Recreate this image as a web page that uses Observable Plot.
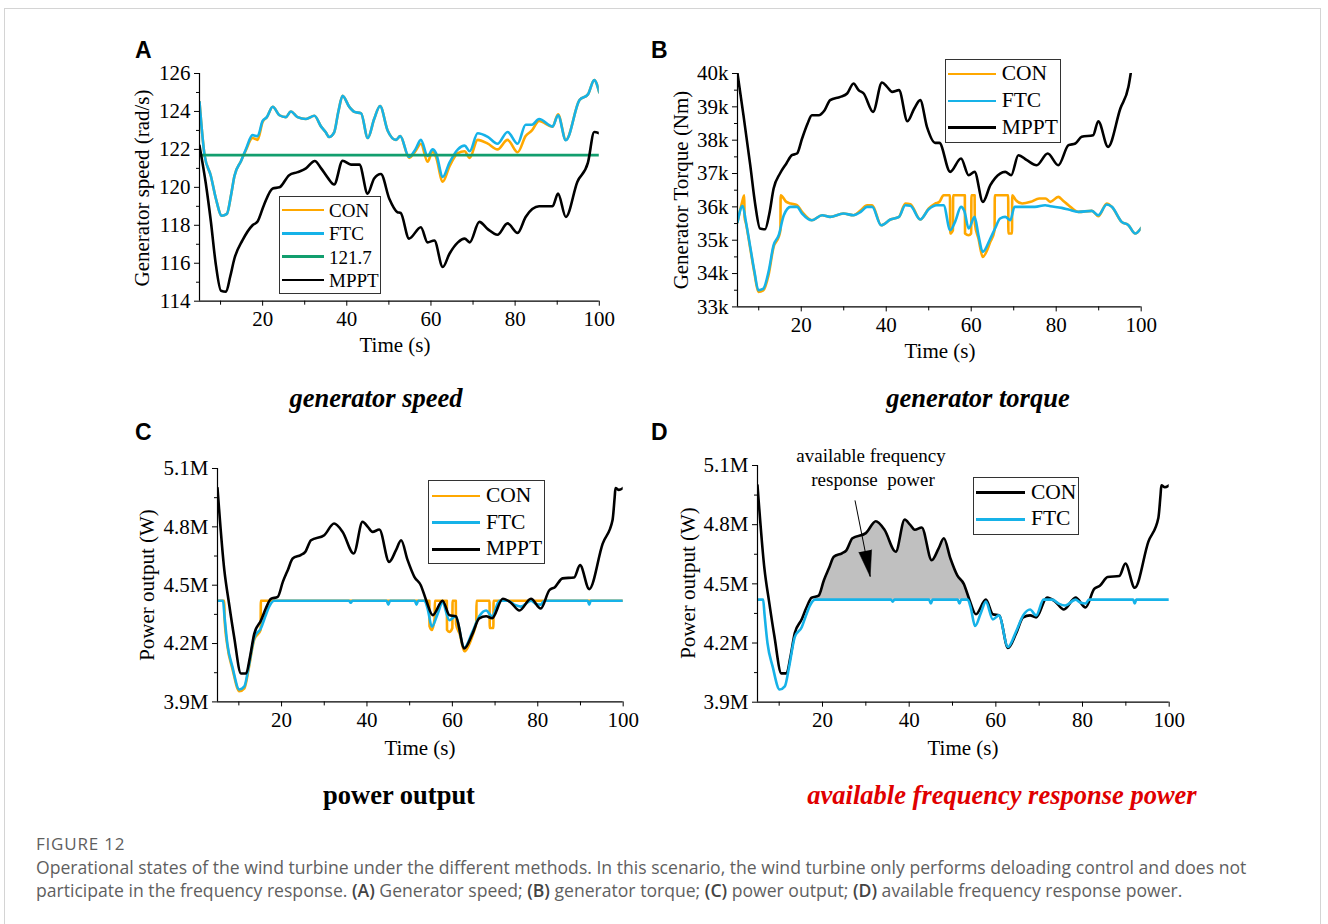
<!DOCTYPE html>
<html><head><meta charset="utf-8">
<script src="https://cdn.jsdelivr.net/npm/d3@7"></script>
<script src="https://cdn.jsdelivr.net/npm/@observablehq/plot@0.6"></script>
<style>
body{margin:0;background:#fff;}
#fig{position:relative;width:1328px;height:924px;overflow:hidden;font-family:"Liberation Serif","Times New Roman",serif;color:#000;}
.abs{position:absolute;white-space:nowrap;line-height:1;}
.cc{transform:translate(-50%,-50%);}
.lc{transform:translate(0,-50%);}
.rot{transform:translate(-50%,-50%) rotate(-90deg);}
.border{position:absolute;left:4px;top:8px;width:1317px;height:930px;border:1px solid #d4d4d4;box-sizing:border-box;}
.letter{font-family:"Liberation Sans",Arial,sans-serif;font-weight:bold;font-size:23px;}
.ptitle{font-weight:bold;font-style:italic;font-size:26.5px;}
.axt{font-size:21px;}
.cap{font-family:"Open Sans","Noto Sans",sans-serif;color:#5f5f5f;font-size:17.6px;}
.cap b{color:#444;font-weight:600;}
</style></head>
<body><div id="fig"><div class="border"></div></div>
<script>
// ---------------- DATA ----------------
const xMajor = [20, 40, 60, 80, 100];
const xMinor = [10, 30, 50, 70, 90];

// (A) generator speed, rad/s
const tSpeedFTC = [5, 6.2, 7.7, 8.9, 10.3, 11.5, 12.5, 13.3, 14.9, 16, 17.6, 18.8, 20, 21, 22.4, 24, 25.5, 26.7, 28.3, 30.3, 32.3, 33.9, 35, 35.8, 37, 38, 39, 40.6, 41.8, 43.4, 45, 46.5, 47.9, 49.7, 51.7, 52.7, 54.8, 56.3, 57.6, 59.2, 60.4, 61.2, 62.8, 64.4, 66.4, 68, 69.2, 71.1, 73.5, 75.8, 78.2, 80.6, 82.5, 84, 85.7, 88.9, 90.2, 92.05, 95.3, 97.3, 98.8, 100];
const speedFTC = [124.5, 121.7, 120.6, 119.4, 118.5, 118.6, 119.6, 120.6, 121.4, 122.0, 122.75, 122.7, 123.5, 123.7, 124.25, 123.8, 123.7, 124.0, 123.7, 123.6, 123.77, 123.2, 122.9, 122.65, 122.9, 124.0, 124.82, 124.24, 123.98, 123.9, 122.6, 123.6, 124.29, 123.0, 122.5, 122.7, 121.6, 122.0, 122.5, 121.65, 122.0, 121.8, 120.55, 121.3, 122.0, 122.2, 121.9, 122.85, 122.66, 122.3, 122.92, 122.3, 123.3, 123.3, 123.6, 123.2, 123.8, 122.48, 124.6, 124.9, 125.65, 125.0];
const speedCON = [124.5, 121.7, 120.6, 119.4, 118.5, 118.6, 119.6, 120.6, 121.4, 121.95, 122.6, 122.5, 123.45, 123.7, 124.25, 123.8, 123.7, 124.0, 123.7, 123.6, 123.77, 123.2, 122.9, 122.65, 122.9, 124.0, 124.82, 124.24, 123.98, 123.9, 122.6, 123.6, 124.29, 123.0, 122.5, 122.7, 121.55, 121.9, 122.3, 121.35, 121.9, 121.6, 120.3, 121.1, 121.8, 121.9, 121.55, 122.5, 122.3, 122.0, 122.5, 121.85, 122.7, 123.0, 123.5, 123.2, 123.85, 122.5, 124.6, 124.9, 125.65, 125.0];
const tSpeedMPPT = [5, 6.5, 7.7, 8.9, 10.1, 11.3, 12.3, 13.3, 15.2, 17.6, 18.8, 20.3, 22.4, 24, 26.3, 28.3, 30.3, 32.4, 33.9, 35.5, 37, 39, 41, 43, 44.95, 46.5, 48.1, 50.1, 52.0, 52.8, 54.8, 57.6, 59.2, 60.8, 62.8, 64.4, 66.4, 68, 69.2, 71.5, 73.5, 75.8, 78.2, 80.6, 82.5, 85.7, 88.9, 90.2, 92.05, 94.8, 97.3, 98.8, 100];
const speedMPPT = [122.2, 120.2, 118.2, 115.9, 114.55, 114.5, 115.3, 116.25, 117.2, 118.0, 118.2, 119.06, 119.94, 120.0, 120.64, 120.8, 121.0, 121.39, 121.0, 120.5, 120.15, 121.4, 121.2, 121.2, 119.67, 120.47, 120.7, 119.4, 118.7, 118.65, 117.3, 117.9, 117.1, 117.2, 115.8, 116.5, 117.1, 117.3, 117.1, 118.18, 117.8, 117.5, 118.1, 117.6, 118.44, 119.0, 119.0, 119.67, 118.44, 120.3, 121.3, 122.92, 122.85];
const speedRef = 121.7;
const speedTicks = [114, 116, 118, 120, 122, 124, 126];
const speedMinor = [115, 117, 119, 121, 123, 125];

// (B) generator torque, kNm
const tTorqueMPPT = [5, 6.4, 8.0, 9.2, 10.3, 11.5, 12.5, 13.5, 15.0, 16.5, 17.8, 19.0, 20.2, 21.5, 22.5, 24.1, 25.5, 26.8, 29.2, 30.8, 32.3, 33.5, 34.7, 36.9, 39.0, 40.2, 41.4, 43.0, 45.0, 46.6, 48.0, 49.6, 51.5, 52.5, 55.05, 57.6, 59.4, 60.8, 62.75, 64.5, 66.8, 68.0, 69.4, 71.1, 73.1, 75.4, 78.0, 80.5, 82.9, 84.5, 86.0, 88.7, 89.9, 92.2, 95.1, 97.0, 98.0];
const torqueMPPT = [40.0, 38.75, 37.25, 36.05, 35.35, 35.33, 35.8, 36.55, 37.0, 37.3, 37.55, 37.6, 38.05, 38.5, 38.75, 38.75, 38.9, 39.2, 39.3, 39.4, 39.7, 39.5, 39.4, 38.85, 39.73, 39.6, 39.45, 39.5, 38.57, 38.95, 39.2, 38.39, 37.92, 37.92, 37.05, 37.45, 36.95, 37.05, 36.15, 36.65, 37.0, 37.05, 36.95, 37.55, 37.4, 37.25, 37.6, 37.25, 37.85, 37.9, 38.1, 38.15, 38.57, 37.8, 38.95, 39.6, 40.4];
const tTorqueFTC = [5, 6.2, 7.0, 8.0, 9.0, 9.9, 11.1, 12.3, 13.5, 14.7, 15.9, 17.5, 19.0, 20.2, 22.5, 24.9, 26.8, 29.9, 32.3, 34.0, 35.5, 36.7, 38.8, 41, 43, 44.5, 45.7, 48.0, 50.0, 51.9, 53.5, 55.05, 56.2, 57.6, 58.4, 59.4, 60.8, 61.7, 62.7, 64.5, 65.6, 66.8, 68.0, 69.2, 70.2, 72.7, 75.0, 77.4, 78.6, 81.3, 82.9, 85.2, 88.4, 89.9, 91.9, 93.1, 95.4, 97.0, 98.6, 100];
const torqueFTC = [35.54, 36.03, 35.54, 34.8, 34.05, 33.5, 33.55, 34.05, 34.85, 35.15, 35.75, 36.0, 36.0, 35.8, 35.6, 35.75, 35.7, 35.8, 35.75, 35.85, 36.0, 36.0, 35.45, 35.62, 35.7, 36.05, 36.03, 35.62, 35.93, 36.05, 36.05, 35.3, 35.55, 36.0, 35.87, 35.35, 35.7, 35.15, 34.65, 35.05, 35.35, 35.65, 35.7, 35.6, 36.0, 36.0, 36.0, 36.05, 36.02, 35.97, 35.92, 35.85, 35.88, 35.75, 36.07, 36.0, 35.55, 35.45, 35.2, 35.37];
const tTorqueCON = [5, 6.0, 6.6, 6.65, 7.0, 8.0, 9.0, 9.9, 11.1, 12.3, 13.5, 14.7, 15.1, 15.15, 16.5, 17.5, 19.0, 20.2, 22.5, 24.9, 26.8, 29.9, 32.3, 34.0, 35.5, 36.7, 38.8, 41, 43, 44.5, 45.7, 48.0, 50.0, 51.5, 52.5, 53.5, 55.0, 55.05, 55.7, 55.75, 58.5, 58.55, 59.4, 60.0, 60.05, 60.8, 60.85, 61.7, 62.7, 64.5, 65.5, 65.55, 68.7, 68.75, 69.6, 69.65, 70.5, 72.0, 74, 76, 77.5, 78.6, 80.5, 81.5, 82.9, 85.2, 88.4, 89.9, 91.9, 93.1, 95.4, 97.0, 98.6, 100];
const torqueCON = [35.54, 36.1, 36.35, 35.7, 35.5, 34.75, 34.0, 33.45, 33.5, 33.95, 34.8, 35.1, 35.3, 36.35, 36.15, 36.1, 36.05, 35.85, 35.6, 35.75, 35.7, 35.8, 35.75, 35.9, 36.05, 36.05, 35.45, 35.62, 35.7, 36.1, 36.08, 35.62, 35.95, 36.1, 36.15, 36.35, 36.35, 35.2, 35.3, 36.35, 36.35, 35.2, 35.15, 35.2, 36.35, 36.35, 35.5, 35.05, 34.5, 34.95, 35.3, 36.35, 36.35, 35.2, 35.2, 36.35, 36.2, 36.1, 36.15, 36.25, 36.25, 36.15, 36.3, 36.2, 36.05, 35.85, 35.88, 35.72, 36.1, 36.0, 35.55, 35.45, 35.2, 35.37];
const torqueTicks = [33, 34, 35, 36, 37, 38, 39, 40];
const torqueMinor = [33.5, 34.5, 35.5, 36.5, 37.5, 38.5, 39.5];

// (C)/(D) power output, MW
const tPowerMPPT = [5, 6.6, 7.7, 8.9, 10.5, 11.7, 12.6, 13.6, 15.2, 16.3, 17.5, 19.1, 20.3, 21.5, 22.6, 24.5, 25.5, 26.9, 30.0, 32.3, 34.3, 36.9, 38.97, 40.2, 41.3, 42.9, 45.2, 46.8, 48.0, 49.5, 51.1, 52.6, 53.9, 55.4, 57.7, 59.3, 60.8, 62.8, 64.7, 66.3, 67.9, 69.3, 71.8, 73.7, 75.7, 78.4, 80.7, 82.7, 84.0, 85.8, 88.5, 89.9, 92.05, 95.2, 97.5, 98.0, 98.2, 99, 100];
const powerMPPT = [5.0, 4.577, 4.406, 4.234, 4.046, 4.046, 4.13, 4.25, 4.32, 4.38, 4.43, 4.44, 4.517, 4.58, 4.637, 4.655, 4.67, 4.731, 4.757, 4.817, 4.774, 4.663, 4.826, 4.80, 4.774, 4.786, 4.62, 4.68, 4.731, 4.63, 4.543, 4.5, 4.42, 4.346, 4.42, 4.346, 4.34, 4.175, 4.25, 4.33, 4.34, 4.33, 4.43, 4.41, 4.37, 4.43, 4.38, 4.474, 4.49, 4.535, 4.54, 4.603, 4.48, 4.714, 4.834, 4.95, 5.0, 4.99, 5.0];
const tPowerFTC = [5, 6.3, 6.6, 7.3, 8.5, 10.1, 11.3, 12.3, 13.6, 15.2, 16.2, 17.1, 18.3, 35.8, 36.2, 36.6, 44.6, 45.0, 45.4, 51.2, 51.6, 52.0, 53.5, 54.2, 55.2, 56.5, 57.7, 59.3, 60.7, 62.8, 64.7, 66.3, 67.9, 69.3, 71.0, 73.0, 74.5, 76.0, 78.4, 79.5, 80.7, 81.5, 91.7, 92.05, 92.4, 100];
const powerFTC = [4.42, 4.42, 4.35, 4.20, 4.08, 3.964, 3.98, 4.08, 4.23, 4.28, 4.34, 4.39, 4.42, 4.42, 4.41, 4.42, 4.42, 4.40, 4.42, 4.42, 4.40, 4.42, 4.42, 4.38, 4.286, 4.35, 4.41, 4.32, 4.34, 4.18, 4.26, 4.34, 4.37, 4.34, 4.42, 4.42, 4.40, 4.39, 4.42, 4.405, 4.40, 4.42, 4.42, 4.40, 4.42, 4.42];
const tPowerCON = [5, 6.6, 6.65, 7.3, 8.5, 10.1, 11.3, 12.3, 13.6, 15.1, 15.15, 54.6, 54.65, 55.2, 55.85, 55.9, 58.7, 58.75, 59.3, 60.0, 60.05, 60.8, 60.85, 61.7, 62.8, 64.7, 65.6, 65.65, 68.7, 68.75, 69.6, 69.65, 100];
const powerCON = [4.42, 4.42, 4.33, 4.19, 4.07, 3.955, 3.97, 4.07, 4.22, 4.27, 4.42, 4.42, 4.29, 4.27, 4.33, 4.42, 4.42, 4.27, 4.26, 4.28, 4.42, 4.42, 4.30, 4.25, 4.16, 4.24, 4.31, 4.42, 4.42, 4.28, 4.28, 4.42, 4.42];
const deloadPower = 4.42;           // deloaded power level (MW)
const reserveWindow = [17.5, 53.9]; // shaded span in (D), s
const powerTicks = [3.9, 4.2, 4.5, 4.8, 5.1];
const powerMinor = [4.05, 4.35, 4.65, 4.95];
const arrowAnno = [{t1: 27.5, p1: 4.923, t2: 31.0, p2: 4.537}];

// ---------------- STYLE ----------------
const C_CON = "#FFA800", C_FTC = "#16B2E8", C_REF = "#129E6E", C_MPPT = "#000000";
const SERIF = '"Liberation Serif","Times New Roman",serif';
const fig = document.getElementById("fig");
const pts = (ts, vs) => ts.map((t, i) => ({t, v: vs[i]}));

function line(data, color) {
  return Plot.line(data, {x: "t", y: "v", stroke: color, strokeWidth: 2.6, clip: true, curve: "monotone-x", strokeLinejoin: "round"});
}

function panel(o) {
  const ml = 80, mr = 24, mt = 12, mb = 50;
  const fw = o.x1 - o.x0, fh = o.yBot - o.yTop;
  const p = Plot.plot({
    width: fw + ml + mr, height: fh + mt + mb,
    marginLeft: ml, marginRight: mr, marginTop: mt, marginBottom: mb,
    x: {domain: [5, 100]},
    y: {domain: o.yDomain},
    style: {fontFamily: SERIF, fontSize: "21px", color: "#000", background: "transparent", overflow: "visible"},
    marks: [
      ...o.marks,
      Plot.axisX({ticks: xMajor, tickSize: 5, tickPadding: 5, label: null, tickFormat: d => String(d)}),
      Plot.axisX({ticks: xMinor, tickSize: 4, label: null, tickFormat: () => ""}),
      Plot.axisY({ticks: o.yMajor, tickSize: 5, tickPadding: 4, label: null, tickFormat: o.fmt}),
      Plot.axisY({ticks: o.yMinor, tickSize: 3, label: null, tickFormat: () => ""}),
      Plot.ruleX([5], {stroke: "#000", strokeWidth: 1.2}),
      Plot.ruleY([o.yDomain[0]], {stroke: "#000", strokeWidth: 1.2})
    ]
  });
  p.style.position = "absolute";
  p.style.left = (o.x0 - ml) + "px";
  p.style.top = (o.yTop - mt) + "px";
  fig.appendChild(p);
}

function text(str, x, y, cls, extra) {
  const d = document.createElement("div");
  d.className = "abs " + cls;
  d.style.left = x + "px"; d.style.top = y + "px";
  d.innerHTML = str;
  if (extra) Object.assign(d.style, extra);
  fig.appendChild(d);
  return d;
}

function legend(o) {
  const b = document.createElement("div");
  Object.assign(b.style, {position: "absolute", left: o.x + "px", top: o.y + "px", width: o.w + "px", height: o.h + "px",
    border: "1.3px solid #333", boxSizing: "border-box", background: "#fff"});
  fig.appendChild(b);
  o.items.forEach((it, i) => {
    const y = o.rows[i];
    const l = document.createElement("div");
    Object.assign(l.style, {position: "absolute", left: o.l0 + "px", top: (y - 1.3) + "px", width: (o.l1 - o.l0) + "px", height: "2.6px", background: it.color});
    fig.appendChild(l);
    text(it.label, o.tx, y, "lc", {fontSize: o.font + "px"});
  });
}

// ---------------- PANELS ----------------
panel({
  x0: 198.5, x1: 598.3, yTop: 73.3, yBot: 301, yDomain: [114, 126],
  yMajor: speedTicks, yMinor: speedMinor, fmt: d => String(d),
  marks: [
    line(pts(tSpeedFTC, speedCON), C_CON),
    line(pts(tSpeedFTC, speedFTC), C_FTC),
    Plot.ruleY([speedRef], {stroke: C_REF, strokeWidth: 2.6}),
    line(pts(tSpeedMPPT, speedMPPT), C_MPPT)
  ]
});

panel({
  x0: 737.3, x1: 1141, yTop: 73.3, yBot: 306.7, yDomain: [33, 40],
  yMajor: torqueTicks, yMinor: torqueMinor, fmt: d => d + "k",
  marks: [
    line(pts(tTorqueCON, torqueCON), C_CON),
    line(pts(tTorqueFTC, torqueFTC), C_FTC),
    line(pts(tTorqueMPPT, torqueMPPT), C_MPPT)
  ]
});

panel({
  x0: 216.6, x1: 622.3, yTop: 468.3, yBot: 701.7, yDomain: [3.9, 5.1],
  yMajor: powerTicks, yMinor: powerMinor, fmt: d => d.toFixed(1) + "M",
  marks: [
    line(pts(tPowerCON, powerCON), C_CON),
    line(pts(tPowerFTC, powerFTC), C_FTC),
    line(pts(tPowerMPPT, powerMPPT), C_MPPT)
  ]
});

const mpptPts = pts(tPowerMPPT, powerMPPT);
panel({
  x0: 757.3, x1: 1169, yTop: 465, yBot: 701.7, yDomain: [3.9, 5.1],
  yMajor: powerTicks, yMinor: powerMinor, fmt: d => d.toFixed(1) + "M",
  marks: [
    Plot.areaY(mpptPts.filter(d => d.t >= reserveWindow[0] && d.t <= reserveWindow[1]),
      {x: "t", y1: () => deloadPower, y2: d => Math.max(d.v, deloadPower), fill: "#c0c0c0", curve: "monotone-x"}),
    line(mpptPts, C_MPPT),
    line(pts(tPowerFTC, powerFTC), C_FTC),
    Plot.link(arrowAnno, {x1: "t1", y1: "p1", x2: "t2", y2: "p2", stroke: "#000", strokeWidth: 1}),
    Plot.vector(arrowAnno, {x: "t2", y: "p2", rotate: 169, length: 26, r: 6.5, shape: "spike", anchor: "end", fill: "#000", stroke: "#000", strokeWidth: 0.5})
  ]
});

// ---------------- TEXT ----------------
text("A", 135, 50, "letter lc");
text("B", 651, 50, "letter lc");
text("C", 135, 432, "letter lc");
text("D", 651, 432, "letter lc");

text("Generator speed (rad/s)", 142, 188, "axt rot");
text("Time (s)", 395, 345, "axt cc");
text("Generator Torque (Nm)", 681, 190, "axt rot");
text("Time (s)", 940, 351, "axt cc");
text("Power output (W)", 147, 585, "axt rot");
text("Time (s)", 420, 748, "axt cc");
text("Power output (W)", 688, 583, "axt rot");
text("Time (s)", 963, 748, "axt cc");

text("generator speed", 376, 398, "ptitle cc");
text("generator torque", 978, 398, "ptitle cc");
text("power output", 399, 795, "ptitle cc", {fontStyle: "normal"});
text("available frequency response power", 1002, 795, "ptitle cc", {color: "#e00000"});

text("available frequency", 871, 455, "cc", {fontSize: "19px"});
text("response&nbsp;&nbsp;power", 873, 479, "cc", {fontSize: "19px"});

legend({x: 279, y: 195.7, w: 102, h: 98.3, l0: 281.7, l1: 324.3, tx: 329, font: 19,
  rows: [210, 233.3, 256.7, 280],
  items: [{label: "CON", color: C_CON}, {label: "FTC", color: C_FTC}, {label: "121.7", color: C_REF}, {label: "MPPT", color: C_MPPT}]});
legend({x: 945, y: 59, w: 115.7, h: 83.7, l0: 948.3, l1: 995.7, tx: 1001.7, font: 21.5,
  rows: [74, 101, 127.7],
  items: [{label: "CON", color: C_CON}, {label: "FTC", color: C_FTC}, {label: "MPPT", color: C_MPPT}]});
legend({x: 428.3, y: 480, w: 116.7, h: 84.3, l0: 431.7, l1: 480, tx: 486, font: 21.5,
  rows: [496, 522.7, 549.3],
  items: [{label: "CON", color: C_CON}, {label: "FTC", color: C_FTC}, {label: "MPPT", color: C_MPPT}]});
legend({x: 972.7, y: 477.3, w: 106.6, h: 57.7, l0: 976, l1: 1025, tx: 1031, font: 21.5,
  rows: [492.7, 519.3],
  items: [{label: "CON", color: C_MPPT}, {label: "FTC", color: C_FTC}]});

// ---------------- CAPTION ----------------
text("FIGURE 12", 36, 843, "cap lc", {letterSpacing: "0.8px", fontSize: "17px"});
text("Operational states of the wind turbine under the different methods. In this scenario, the wind turbine only performs deloading control and does not", 36, 868, "cap lc");
text("participate in the frequency response. <b>(A)</b> Generator speed; <b>(B)</b> generator torque; <b>(C)</b> power output; <b>(D)</b> available frequency response power.", 36, 891, "cap lc");
</script>
</body></html>
